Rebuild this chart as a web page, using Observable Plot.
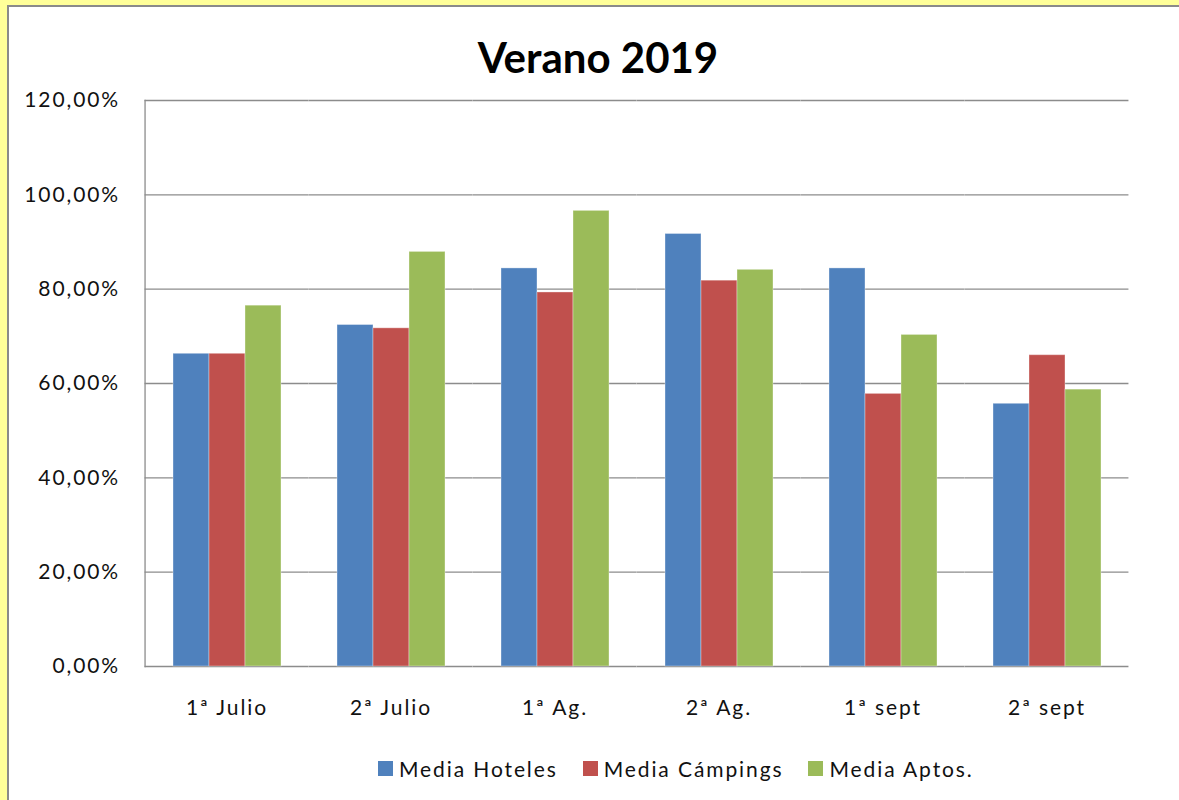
<!DOCTYPE html>
<html>
<head>
<meta charset="utf-8">
<script src="https://cdn.jsdelivr.net/npm/d3@7"></script>
<script src="https://cdn.jsdelivr.net/npm/@observablehq/plot@0.6"></script>
<style>
  html, body { margin: 0; padding: 0; width: 1179px; height: 800px; overflow: hidden; background: #ffff99; font-family: Lato, "Open Sans", sans-serif; }
  #panel { position: absolute; left: 7px; top: 5px; width: 1200px; height: 820px; background: #fff; border-left: 2px solid #8a8a8a; border-top: 2px solid #8a8a8a; }
  #title { position: absolute; left: 0; top: 36px; width: 1196px; text-align: center; font-size: 42px; font-weight: 700; line-height: 1; color: #000; }
  #chart { position: absolute; left: 0; top: 80px; }
  #legend { position: absolute; left: 378px; top: 756px; display: flex; align-items: center; font-size: 21px; letter-spacing: 1.9px; color: #111; }
  .item { display: flex; align-items: center; margin-right: 25px; }
  .sw { width: 15px; height: 15px; margin-right: 6px; }
</style>
</head>
<body>
<div id="panel"></div>
<div id="title">Verano 2019</div>
<div id="chart"></div>
<div id="legend"></div>
<script>
const categories = ["1ª Julio", "2ª Julio", "1ª Ag.", "2ª Ag.", "1ª sept", "2ª sept"];
const series = ["Media Hoteles", "Media Cámpings", "Media Aptos."];
const hoteles  = [66.3, 72.4, 84.4, 91.7, 84.4, 55.7];
const campings = [66.3, 71.7, 79.3, 81.8, 57.8, 66.0];
const aptos    = [76.5, 87.9, 96.6, 84.1, 70.3, 58.7];
const colors = ["#4F81BD", "#C0504D", "#9BBB59"];
const yTicks = [0, 20, 40, 60, 80, 100, 120];

const seriesValues = [hoteles, campings, aptos];
const data = categories.flatMap((c, i) => seriesValues.map((arr, j) => ({cat: c, series: series[j], value: arr[i]})));
const fmt = d => d.toFixed(2).replace(".", ",") + "%";

const W = 1179, ML = 143, MR = 48;
const padInner = 1/3, padOuter = 1/6;
const step = (W - ML - MR) / categories.length;
const ext = step * padInner / 2; // half the gap between facets (= outer gap)

const chart = Plot.plot({
  width: W,
  height: 650,
  marginLeft: ML,
  marginRight: MR,
  marginTop: 20,
  marginBottom: 64,
  style: {fontFamily: "Lato, 'Open Sans', sans-serif", fontSize: "21px", letterSpacing: "1.9px", color: "#111", background: "transparent"},
  fx: {domain: categories, paddingInner: padInner, paddingOuter: padOuter, label: null},
  x: {domain: series, padding: 0, axis: null},
  y: {domain: [0, 120], label: null},
  color: {domain: series, range: colors},
  marks: [
    Plot.ruleY(yTicks, {y: d => d, stroke: "#8c8c8c", strokeWidth: 1.3, insetLeft: -ext, insetRight: -ext}),
    Plot.frame({anchor: "left", fx: () => categories[0], stroke: "#8c8c8c", strokeWidth: 1.3, insetLeft: -ext}),
    Plot.barY(data, {fx: "cat", x: "series", y: "value", fill: "series", stroke: "white", strokeOpacity: 0.35, strokeWidth: 1}),
    Plot.axisY({ticks: yTicks, tickFormat: fmt, tickSize: 0, tickPadding: 25 + ext, fontSize: 21, label: null}),
    Plot.axisFx({anchor: "bottom", tickSize: 0, tickPadding: 34, fontSize: 21, label: null})
  ]
});
document.getElementById("chart").appendChild(chart);

const legend = document.getElementById("legend");
series.forEach((s, i) => {
  const item = document.createElement("div");
  item.className = "item";
  const sw = document.createElement("div");
  sw.className = "sw";
  sw.style.background = colors[i];
  const t = document.createElement("span");
  t.textContent = s;
  item.appendChild(sw);
  item.appendChild(t);
  legend.appendChild(item);
});
</script>
</body>
</html>
